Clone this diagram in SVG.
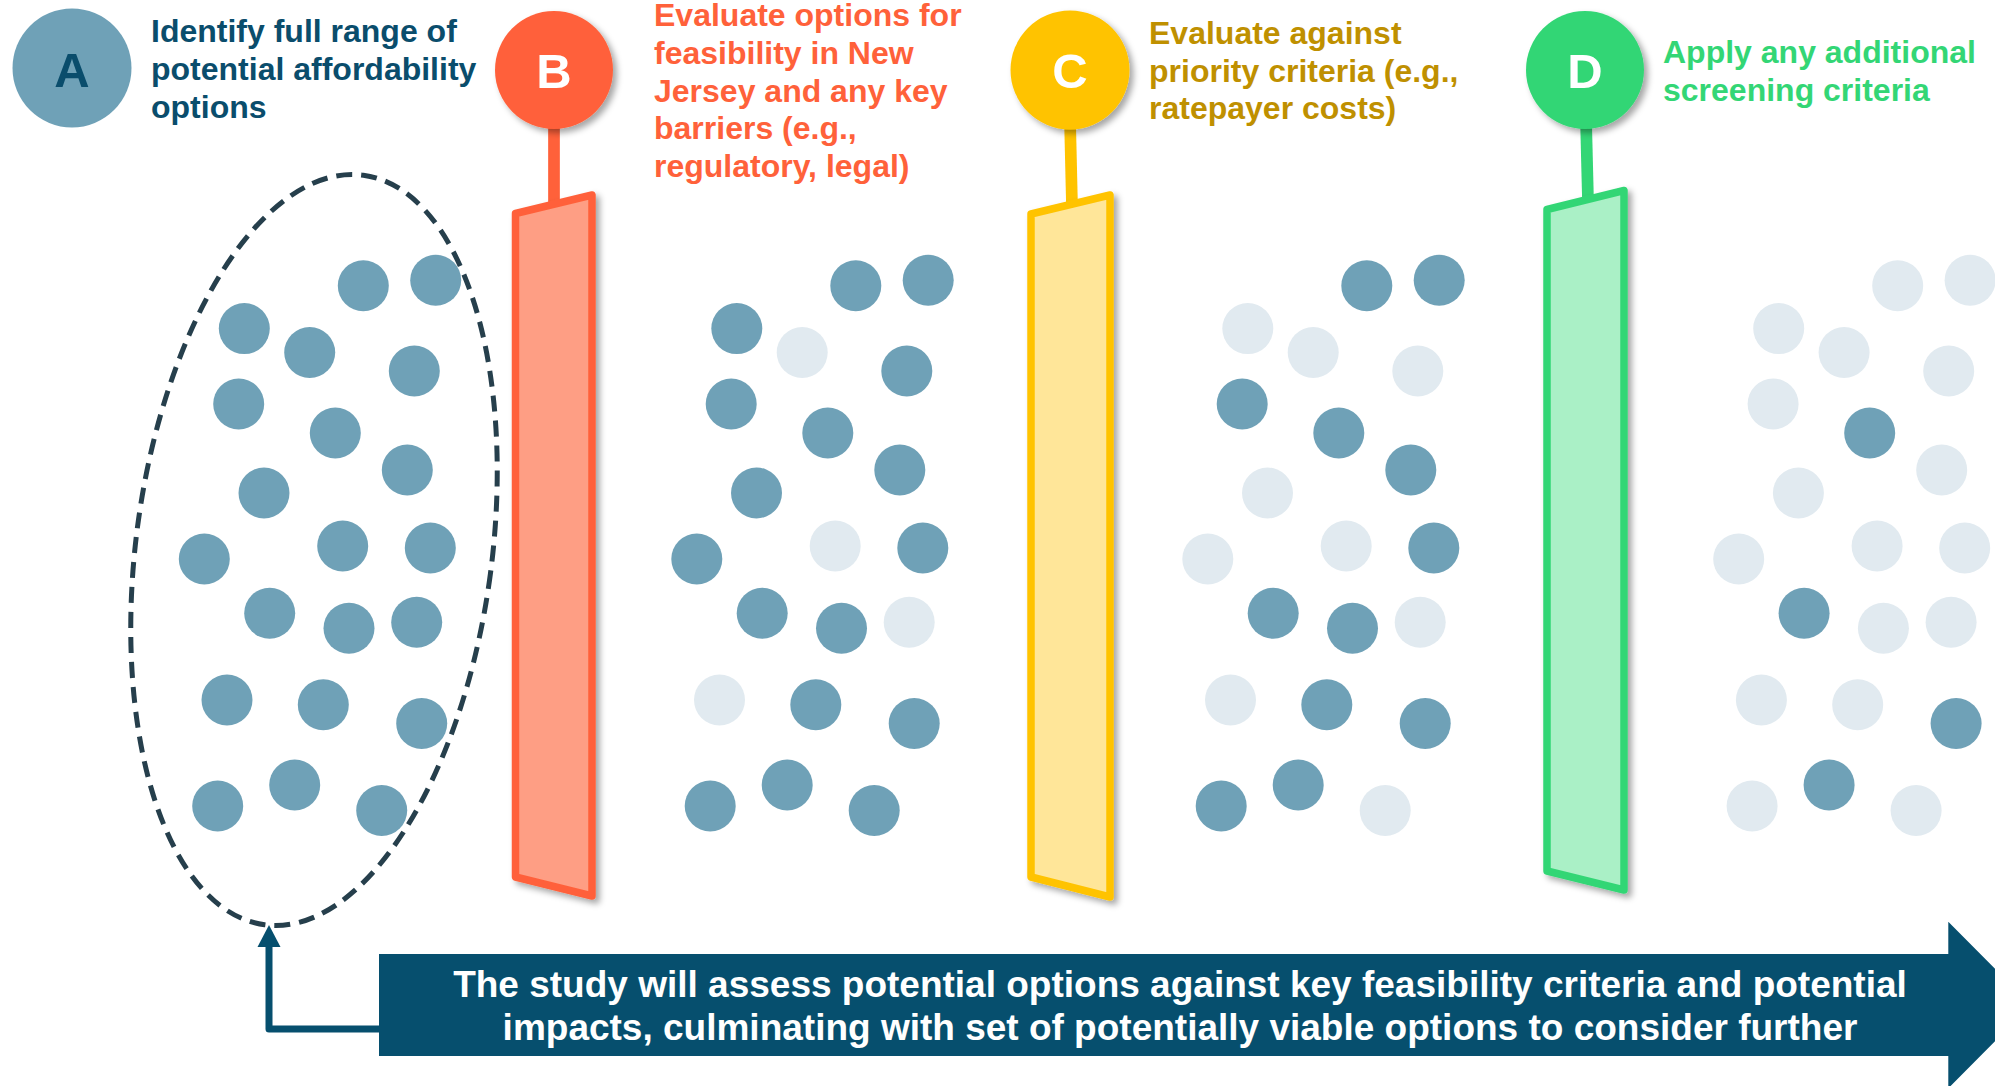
<svg xmlns="http://www.w3.org/2000/svg" width="1995" height="1086" viewBox="0 0 1995 1086">
<defs>
<filter id="sh" x="-30%" y="-30%" width="160%" height="160%">
<feDropShadow dx="4" dy="4" stdDeviation="3" flood-color="#000" flood-opacity="0.35"/>
</filter>
<style>
.lbl{font-family:"Liberation Sans",Arial,sans-serif;font-weight:bold;font-size:32px}
.let{font-family:"Liberation Sans",Arial,sans-serif;font-weight:bold;font-size:49px;text-anchor:middle}
.ban{font-family:"Liberation Sans",Arial,sans-serif;font-weight:bold;font-size:37px;fill:#ffffff;text-anchor:middle}
.dk{fill:#6fa1b7}
.lt{fill:#e1eaf0}
.bar{stroke-width:7.5;stroke-linejoin:round}
</style>
</defs>

<g id="connectors">
<line x1="554" y1="120" x2="554" y2="206" stroke="#ff613a" stroke-width="11.7"/>
<line x1="1070" y1="120" x2="1072" y2="206" stroke="#ffc300" stroke-width="11.7"/>
<line x1="1586" y1="120" x2="1588" y2="201" stroke="#33d675" stroke-width="11.7"/>
<path d="M379 1029 H269 V945" fill="none" stroke="#064f6e" stroke-width="7" stroke-linejoin="round"/>
<polygon points="269,925 257.5,947 280.5,947" fill="#064f6e"/>
</g>

<g id="step-a">
<circle cx="72" cy="68" r="59.5" fill="#6fa1b7"/>
<text class="let" x="72" y="86.5" fill="#0a4d6c">A</text>
<text class="lbl" fill="#0a4d6c"><tspan x="151" y="42">Identify full range of</tspan><tspan x="151" y="79.5">potential affordability</tspan><tspan x="151" y="117.5">options</tspan></text>
</g>

<g id="options-all">
<ellipse cx="314" cy="550" rx="178" ry="378" fill="none" stroke="#263f4c" stroke-width="5" stroke-dasharray="16 9" transform="rotate(7.5 314 550)"/>
</g>

<g id="step-b">
<polygon class="bar" points="515.5,213.5 592,195 592,896 515.5,877" fill="#fe9e84" stroke="#ff613a" filter="url(#sh)"/>
<circle cx="554" cy="70" r="59" fill="#ff613a" filter="url(#sh)"/>
<text class="let" x="554" y="88" fill="#ffffff">B</text>
<text class="lbl" fill="#ff613a"><tspan x="654" y="26">Evaluate options for</tspan><tspan x="654" y="63.8">feasibility in New</tspan><tspan x="654" y="101.6">Jersey and any key</tspan><tspan x="654" y="139.4">barriers (e.g.,</tspan><tspan x="654" y="177.2">regulatory, legal)</tspan></text>
</g>

<g id="step-c">
<polygon class="bar" points="1031,214 1110,195 1110,897 1031,877" fill="#ffe699" stroke="#ffc300" filter="url(#sh)"/>
<circle cx="1070" cy="70" r="59.5" fill="#ffc300" filter="url(#sh)"/>
<text class="let" x="1070" y="88" fill="#ffffff">C</text>
<text class="lbl" fill="#bf9000"><tspan x="1149" y="44.3">Evaluate against</tspan><tspan x="1149" y="81.5">priority criteria (e.g.,</tspan><tspan x="1149" y="118.7">ratepayer costs)</tspan></text>
</g>

<g id="step-d">
<polygon class="bar" points="1547,209.5 1624,190.5 1624,890 1547,871" fill="#aaf0c6" stroke="#33d675" filter="url(#sh)"/>
<circle cx="1585" cy="70" r="59" fill="#33d675" filter="url(#sh)"/>
<text class="let" x="1585" y="88" fill="#ffffff">D</text>
<text class="lbl" fill="#33d675"><tspan x="1663" y="63.3">Apply any additional</tspan><tspan x="1663" y="100.5">screening criteria</tspan></text>
</g>

<g id="cluster-a">
<circle class="dk" cx="363.3" cy="285.7" r="25.5"/>
<circle class="dk" cx="435.7" cy="280.2" r="25.5"/>
<circle class="dk" cx="244.3" cy="328.6" r="25.5"/>
<circle class="dk" cx="309.7" cy="352.5" r="25.5"/>
<circle class="dk" cx="414.3" cy="371" r="25.5"/>
<circle class="dk" cx="238.7" cy="404" r="25.5"/>
<circle class="dk" cx="335.3" cy="433" r="25.5"/>
<circle class="dk" cx="407.3" cy="470" r="25.5"/>
<circle class="dk" cx="264" cy="493" r="25.5"/>
<circle class="dk" cx="204.3" cy="559" r="25.5"/>
<circle class="dk" cx="342.7" cy="546" r="25.5"/>
<circle class="dk" cx="430.3" cy="548" r="25.5"/>
<circle class="dk" cx="269.7" cy="613.3" r="25.5"/>
<circle class="dk" cx="349" cy="628.3" r="25.5"/>
<circle class="dk" cx="416.7" cy="622.3" r="25.5"/>
<circle class="dk" cx="227" cy="700" r="25.5"/>
<circle class="dk" cx="323.3" cy="704.7" r="25.5"/>
<circle class="dk" cx="421.7" cy="723.5" r="25.5"/>
<circle class="dk" cx="217.7" cy="806" r="25.5"/>
<circle class="dk" cx="294.7" cy="785" r="25.5"/>
<circle class="dk" cx="381.7" cy="810.5" r="25.5"/>
</g>

<g id="cluster-b" transform="translate(492.5,0)">
<circle class="dk" cx="363.3" cy="285.7" r="25.5"/>
<circle class="dk" cx="435.7" cy="280.2" r="25.5"/>
<circle class="dk" cx="244.3" cy="328.6" r="25.5"/>
<circle class="lt" cx="309.7" cy="352.5" r="25.5"/>
<circle class="dk" cx="414.3" cy="371" r="25.5"/>
<circle class="dk" cx="238.7" cy="404" r="25.5"/>
<circle class="dk" cx="335.3" cy="433" r="25.5"/>
<circle class="dk" cx="407.3" cy="470" r="25.5"/>
<circle class="dk" cx="264" cy="493" r="25.5"/>
<circle class="dk" cx="204.3" cy="559" r="25.5"/>
<circle class="lt" cx="342.7" cy="546" r="25.5"/>
<circle class="dk" cx="430.3" cy="548" r="25.5"/>
<circle class="dk" cx="269.7" cy="613.3" r="25.5"/>
<circle class="dk" cx="349" cy="628.3" r="25.5"/>
<circle class="lt" cx="416.7" cy="622.3" r="25.5"/>
<circle class="lt" cx="227" cy="700" r="25.5"/>
<circle class="dk" cx="323.3" cy="704.7" r="25.5"/>
<circle class="dk" cx="421.7" cy="723.5" r="25.5"/>
<circle class="dk" cx="217.7" cy="806" r="25.5"/>
<circle class="dk" cx="294.7" cy="785" r="25.5"/>
<circle class="dk" cx="381.7" cy="810.5" r="25.5"/>
</g>

<g id="cluster-c" transform="translate(1003.5,0)">
<circle class="dk" cx="363.3" cy="285.7" r="25.5"/>
<circle class="dk" cx="435.7" cy="280.2" r="25.5"/>
<circle class="lt" cx="244.3" cy="328.6" r="25.5"/>
<circle class="lt" cx="309.7" cy="352.5" r="25.5"/>
<circle class="lt" cx="414.3" cy="371" r="25.5"/>
<circle class="dk" cx="238.7" cy="404" r="25.5"/>
<circle class="dk" cx="335.3" cy="433" r="25.5"/>
<circle class="dk" cx="407.3" cy="470" r="25.5"/>
<circle class="lt" cx="264" cy="493" r="25.5"/>
<circle class="lt" cx="204.3" cy="559" r="25.5"/>
<circle class="lt" cx="342.7" cy="546" r="25.5"/>
<circle class="dk" cx="430.3" cy="548" r="25.5"/>
<circle class="dk" cx="269.7" cy="613.3" r="25.5"/>
<circle class="dk" cx="349" cy="628.3" r="25.5"/>
<circle class="lt" cx="416.7" cy="622.3" r="25.5"/>
<circle class="lt" cx="227" cy="700" r="25.5"/>
<circle class="dk" cx="323.3" cy="704.7" r="25.5"/>
<circle class="dk" cx="421.7" cy="723.5" r="25.5"/>
<circle class="dk" cx="217.7" cy="806" r="25.5"/>
<circle class="dk" cx="294.7" cy="785" r="25.5"/>
<circle class="lt" cx="381.7" cy="810.5" r="25.5"/>
</g>

<g id="cluster-d" transform="translate(1534.4,0)">
<circle class="lt" cx="363.3" cy="285.7" r="25.5"/>
<circle class="lt" cx="435.7" cy="280.2" r="25.5"/>
<circle class="lt" cx="244.3" cy="328.6" r="25.5"/>
<circle class="lt" cx="309.7" cy="352.5" r="25.5"/>
<circle class="lt" cx="414.3" cy="371" r="25.5"/>
<circle class="lt" cx="238.7" cy="404" r="25.5"/>
<circle class="dk" cx="335.3" cy="433" r="25.5"/>
<circle class="lt" cx="407.3" cy="470" r="25.5"/>
<circle class="lt" cx="264" cy="493" r="25.5"/>
<circle class="lt" cx="204.3" cy="559" r="25.5"/>
<circle class="lt" cx="342.7" cy="546" r="25.5"/>
<circle class="lt" cx="430.3" cy="548" r="25.5"/>
<circle class="dk" cx="269.7" cy="613.3" r="25.5"/>
<circle class="lt" cx="349" cy="628.3" r="25.5"/>
<circle class="lt" cx="416.7" cy="622.3" r="25.5"/>
<circle class="lt" cx="227" cy="700" r="25.5"/>
<circle class="lt" cx="323.3" cy="704.7" r="25.5"/>
<circle class="dk" cx="421.7" cy="723.5" r="25.5"/>
<circle class="lt" cx="217.7" cy="806" r="25.5"/>
<circle class="dk" cx="294.7" cy="785" r="25.5"/>
<circle class="lt" cx="381.7" cy="810.5" r="25.5"/>
</g>

<g id="banner">
<polygon points="379,954 1948.3,954 1948.3,921.7 2031,1005 1948.3,1088.3 1948.3,1056 379,1056" fill="#064f6e"/>
<text class="ban"><tspan x="1180" y="996.7">The study will assess potential options against key feasibility criteria and potential</tspan><tspan x="1180" y="1040">impacts, culminating with set of potentially viable options to consider further</tspan></text>
</g>
</svg>
